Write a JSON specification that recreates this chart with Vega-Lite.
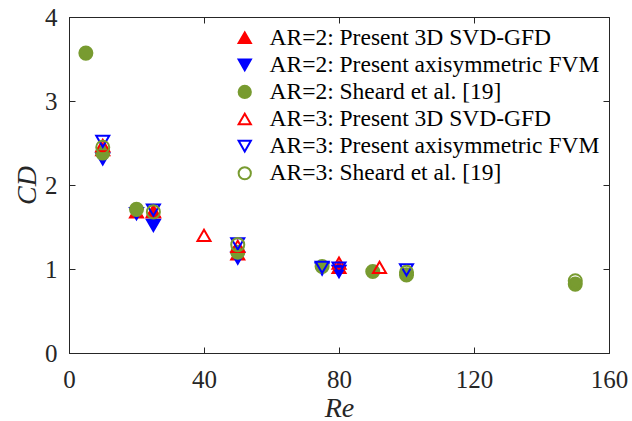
{
  "$schema": "https://vega.github.io/schema/vega-lite/v6.json",
  "width": 540,
  "height": 336,
  "autosize": "none",
  "padding": {"left": 69, "top": 17, "right": 23, "bottom": 68},
  "background": "white",
  "config": {
    "view": {"stroke": "#262626", "strokeWidth": 1},
    "font": "Liberation Serif, Times New Roman, serif",
    "axis": {
      "grid": false,
      "domainColor": "#262626",
      "tickColor": "#262626",
      "labelColor": "#262626",
      "titleColor": "#262626",
      "labelFont": "Liberation Serif, Times New Roman, serif",
      "titleFont": "Liberation Serif, Times New Roman, serif",
      "labelFontSize": 25,
      "titleFontSize": 28,
      "titleFontStyle": "italic",
      "titleFontWeight": "normal",
      "labelFlush": false
    },
    "legend": {
      "labelFont": "Liberation Serif, Times New Roman, serif",
      "labelFontSize": 23.5,
      "labelColor": "#000000",
      "labelLimit": 0
    }
  },
  "data": {
    "values": [
      {"series": "AR=2: Present 3D SVD-GFD", "Re": 10, "CD": 2.42},
      {"series": "AR=2: Present 3D SVD-GFD", "Re": 20, "CD": 1.68},
      {"series": "AR=2: Present 3D SVD-GFD", "Re": 25, "CD": 1.68},
      {"series": "AR=2: Present 3D SVD-GFD", "Re": 50, "CD": 1.18},
      {"series": "AR=2: Present 3D SVD-GFD", "Re": 80, "CD": 1.02},
      {"series": "AR=2: Present axisymmetric FVM", "Re": 10, "CD": 2.31},
      {"series": "AR=2: Present axisymmetric FVM", "Re": 20, "CD": 1.66},
      {"series": "AR=2: Present axisymmetric FVM", "Re": 25, "CD": 1.52},
      {"series": "AR=2: Present axisymmetric FVM", "Re": 50, "CD": 1.13},
      {"series": "AR=2: Present axisymmetric FVM", "Re": 75, "CD": 1.0},
      {"series": "AR=2: Present axisymmetric FVM", "Re": 80, "CD": 0.97},
      {"series": "AR=2: Sheard et al. [19]", "Re": 5, "CD": 3.57},
      {"series": "AR=2: Sheard et al. [19]", "Re": 10, "CD": 2.38},
      {"series": "AR=2: Sheard et al. [19]", "Re": 20, "CD": 1.71},
      {"series": "AR=2: Sheard et al. [19]", "Re": 50, "CD": 1.2},
      {"series": "AR=2: Sheard et al. [19]", "Re": 75, "CD": 1.03},
      {"series": "AR=2: Sheard et al. [19]", "Re": 90, "CD": 0.97},
      {"series": "AR=2: Sheard et al. [19]", "Re": 100, "CD": 0.93},
      {"series": "AR=2: Sheard et al. [19]", "Re": 150, "CD": 0.82},
      {"series": "AR=3: Present 3D SVD-GFD", "Re": 10, "CD": 2.47},
      {"series": "AR=3: Present 3D SVD-GFD", "Re": 25, "CD": 1.69},
      {"series": "AR=3: Present 3D SVD-GFD", "Re": 40, "CD": 1.4},
      {"series": "AR=3: Present 3D SVD-GFD", "Re": 50, "CD": 1.27},
      {"series": "AR=3: Present 3D SVD-GFD", "Re": 80, "CD": 1.07},
      {"series": "AR=3: Present 3D SVD-GFD", "Re": 92, "CD": 1.02},
      {"series": "AR=3: Present axisymmetric FVM", "Re": 10, "CD": 2.52},
      {"series": "AR=3: Present axisymmetric FVM", "Re": 25, "CD": 1.7},
      {"series": "AR=3: Present axisymmetric FVM", "Re": 50, "CD": 1.3},
      {"series": "AR=3: Present axisymmetric FVM", "Re": 75, "CD": 1.02},
      {"series": "AR=3: Present axisymmetric FVM", "Re": 80, "CD": 1.01},
      {"series": "AR=3: Present axisymmetric FVM", "Re": 100, "CD": 0.99},
      {"series": "AR=3: Sheard et al. [19]", "Re": 10, "CD": 2.45},
      {"series": "AR=3: Sheard et al. [19]", "Re": 25, "CD": 1.68},
      {"series": "AR=3: Sheard et al. [19]", "Re": 50, "CD": 1.29},
      {"series": "AR=3: Sheard et al. [19]", "Re": 100, "CD": 0.96},
      {"series": "AR=3: Sheard et al. [19]", "Re": 150, "CD": 0.86}
    ]
  },
  "resolve": {"axis": {"x": "independent", "y": "independent"}},
  "layer": [
    {
      "mark": {"type": "point", "opacity": 0},
      "encoding": {
        "x": {
          "field": "Re", "type": "quantitative",
          "scale": {"domain": [0, 160], "nice": false, "zero": false},
          "axis": {"orient": "top", "values": [0, 40, 80, 120, 160], "tickSize": -6, "labels": false, "domain": false, "title": null}
        },
        "y": {
          "field": "CD", "type": "quantitative",
          "scale": {"domain": [0, 4], "nice": false},
          "axis": {"orient": "right", "values": [0, 1, 2, 3, 4], "tickSize": -6, "labels": false, "domain": false, "title": null}
        }
      }
    },
    {
      "mark": {"type": "point", "strokeWidth": 2, "opacity": 1, "filled": false},
      "encoding": {
        "x": {
          "field": "Re", "type": "quantitative",
          "scale": {"domain": [0, 160], "nice": false, "zero": false},
          "axis": {"orient": "bottom", "values": [0, 40, 80, 120, 160], "tickSize": -6, "labelPadding": 20, "title": "Re", "titleY": 63, "titleBaseline": "alphabetic", "titlePadding": 0}
        },
        "y": {
          "field": "CD", "type": "quantitative",
          "scale": {"domain": [0, 4], "nice": false},
          "axis": {"orient": "left", "values": [0, 1, 2, 3, 4], "tickSize": -6, "labelPadding": 18, "title": "CD", "titleX": -28, "titlePadding": 0}
        },
        "shape": {
          "field": "series", "type": "nominal", "sort": null,
          "scale": {
            "domain": ["AR=2: Present 3D SVD-GFD", "AR=2: Present axisymmetric FVM", "AR=2: Sheard et al. [19]", "AR=3: Present 3D SVD-GFD", "AR=3: Present axisymmetric FVM", "AR=3: Sheard et al. [19]"],
            "range": ["triangle-up", "triangle-down", "circle", "triangle-up", "triangle-down", "circle"]
          },
          "legend": {"title": null, "orient": "none", "legendX": 164, "legendY": 9, "symbolSize": 150, "symbolStrokeWidth": 2, "labelOffset": 13, "rowPadding": 2.1}
        },
        "fill": {
          "field": "series", "type": "nominal", "sort": null,
          "scale": {
            "domain": ["AR=2: Present 3D SVD-GFD", "AR=2: Present axisymmetric FVM", "AR=2: Sheard et al. [19]", "AR=3: Present 3D SVD-GFD", "AR=3: Present axisymmetric FVM", "AR=3: Sheard et al. [19]"],
            "range": ["#ff0000", "#0000ff", "#789b30", "transparent", "transparent", "transparent"]
          },
          "legend": {"title": null, "orient": "none", "legendX": 164, "legendY": 9, "symbolSize": 150, "symbolStrokeWidth": 2, "labelOffset": 13, "rowPadding": 2.1}
        },
        "stroke": {
          "field": "series", "type": "nominal", "sort": null,
          "scale": {
            "domain": ["AR=2: Present 3D SVD-GFD", "AR=2: Present axisymmetric FVM", "AR=2: Sheard et al. [19]", "AR=3: Present 3D SVD-GFD", "AR=3: Present axisymmetric FVM", "AR=3: Sheard et al. [19]"],
            "range": ["#ff0000", "#0000ff", "#789b30", "#ff0000", "#0000ff", "#789b30"]
          },
          "legend": {"title": null, "orient": "none", "legendX": 164, "legendY": 9, "symbolSize": 150, "symbolStrokeWidth": 2, "labelOffset": 13, "rowPadding": 2.1}
        },
        "size": {"value": 170}
      }
    }
  ]
}
